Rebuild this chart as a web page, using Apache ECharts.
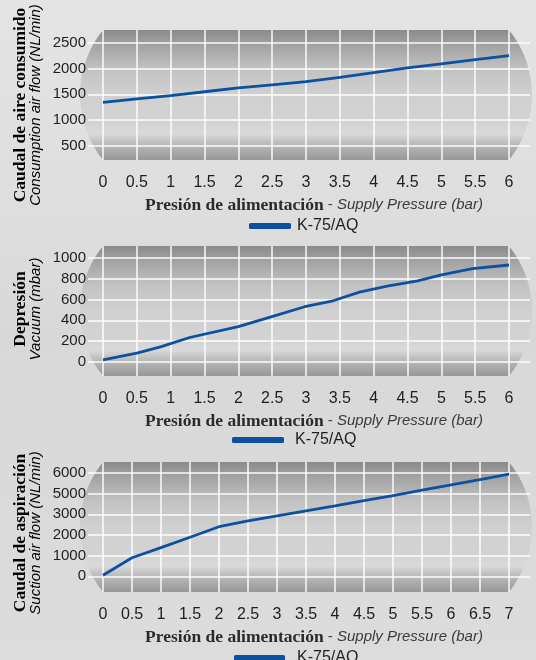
<!DOCTYPE html>
<html>
<head>
<meta charset="utf-8">
<script src="https://cdn.jsdelivr.net/npm/echarts@6/dist/echarts.min.js"></script>
<style>
  html, body { margin: 0; padding: 0; background: #dcdcdc; }
  #chart { width: 536px; height: 660px; }
</style>
</head>
<body>
<div id="chart"></div>
<script>
// ---- data -------------------------------------------------------------
const seriesName = 'K-75/AQ';

// Air consumption (NL/min) vs supply pressure (bar)
const pressureA = [0, 0.5, 1, 1.5, 2, 2.5, 3, 3.5, 4, 4.5, 5, 5.5, 6];
const airConsumption = [1345, 1410, 1475, 1550, 1625, 1685, 1745, 1830, 1920, 2010, 2090, 2170, 2250];

// Vacuum (mbar) vs supply pressure (bar)
const pressureB = [0, 0.5, 0.85, 1.28, 2, 2.57, 2.98, 3.4, 3.79, 4.2, 4.65, 5, 5.46, 6];
const vacuum = [20, 85, 145, 235, 340, 450, 530, 587, 670, 727, 778, 835, 895, 930];

// Suction air flow vs supply pressure (bar), in grid steps of 1000
const pressureC = [0, 0.5, 1, 1.5, 2, 2.5, 3, 3.5, 4, 4.5, 5, 5.5, 6, 6.5, 7];
const suctionFlow = [50, 900, 1390, 1890, 2400, 2680, 2920, 3170, 3410, 3660, 3910, 4170, 4420, 4680, 4940];
// printed labels of the suction scale (one per grid line; there is no "4000")
const suctionTickLabels = ['0', '1000', '2000', '3000', '5000', '6000'];

// ---- layout & style ---------------------------------------------------
const W = 536;
const PLOT_L = 103, PLOT_R = 509;       // inner plot (vertical grid lines)
const WIDE_L = 88, WIDE_R = 530;        // horizontal grid lines run wider
const PLOT_H = 130;
const BULGE = 23;                        // rounded ends of the gray panel
const BLUE = '#0c51a0';
const SANS = '"Liberation Sans", Arial, Helvetica, sans-serif';
const SERIF = '"Liberation Serif", "Times New Roman", serif';

const panels = [
  { top: 30,  yMin: 229,  yMax: 2745, splitNumber: 5, xMax: 6,
    title: ['Caudal de aire consumido', 'Consumption air flow (NL/min)'], titleX: 28, titleY: 105,
    legendLeft: 249, legendTop: 218, iconW: 42, textPad: 1 },
  { top: 246, yMin: -134, yMax: 1112, splitNumber: 6, xMax: 6,
    title: ['Depresión', 'Vacuum (mbar)'], titleX: 28, titleY: 309,
    legendLeft: 232, legendTop: 432, iconW: 52, textPad: 6 },
  { top: 462, yMin: -760, yMax: 5532, splitNumber: 6, xMax: 7,
    title: ['Caudal de aspiración', 'Suction air flow (NL/min)'], titleX: 28, titleY: 533,
    legendLeft: 234, legendTop: 650, iconW: 51, textPad: 7 }
];

const seriesData = [
  pressureA.map((p, i) => [p, airConsumption[i]]),
  pressureB.map((p, i) => [p, vacuum[i]]),
  pressureC.map((p, i) => [p, suctionFlow[i]])
];

const yFormatters = [
  v => (v % 500 === 0 ? String(v) : ''),
  v => (v % 200 === 0 ? String(v) : ''),
  v => {
    const k = v / 1000;
    return (Number.isInteger(k) && k >= 0 && k < suctionTickLabels.length) ? suctionTickLabels[k] : '';
  }
];

const panelGradient = {
  type: 'linear', x: 0, y: 0, x2: 0, y2: 1,
  colorStops: [
    { offset: 0, color: '#8b8b8b' },
    { offset: 0.12, color: '#a3a3a3' },
    { offset: 0.3, color: '#c2c2c2' },
    { offset: 0.5, color: '#d0d0d0' },
    { offset: 0.72, color: '#d3d3d3' },
    { offset: 0.8, color: '#d9d9d9' },
    { offset: 0.87, color: '#bdbdbd' },
    { offset: 1, color: '#979797' }
  ]
};

// gray panel: a rectangle with circular bulges on both sides
function panelShape(top) {
  const h = PLOT_H / 2, s = BULGE;
  const R = (h * h + s * s) / (2 * s);
  const a = Math.asin(h / R);
  const cy = top + h;
  const pts = [];
  const n = 24;
  const cxR = PLOT_R + s - R;
  for (let i = 0; i <= n; i++) {
    const t = -a + (2 * a * i) / n;
    pts.push([cxR + R * Math.cos(t), cy + R * Math.sin(t)]);
  }
  const cxL = PLOT_L - s + R;
  for (let i = 0; i <= n; i++) {
    const t = a - (2 * a * i) / n;
    pts.push([cxL - R * Math.cos(t), cy + R * Math.sin(t)]);
  }
  return pts;
}

const grids = [], xAxes = [], yAxes = [], series = [], legends = [];
const graphics = [
  {
    type: 'rect', z: -20, silent: true,
    shape: { x: 0, y: 0, width: W, height: 660 },
    style: {
      fill: {
        type: 'linear', x: 0, y: 0, x2: 0, y2: 1,
        colorStops: [
          { offset: 0, color: '#e4e4e4' },
          { offset: 0.35, color: '#dddddd' },
          { offset: 0.5, color: '#d8d8d8' },
          { offset: 1, color: '#dcdcdc' }
        ]
      }
    }
  }
];

panels.forEach((p, i) => {
  // inner grid: series, x axis, vertical grid lines
  grids.push({ left: PLOT_L, top: p.top, width: PLOT_R - PLOT_L, height: PLOT_H, containLabel: false });
  // wide grid: y labels and horizontal grid lines
  grids.push({ left: WIDE_L, top: p.top, width: WIDE_R - WIDE_L, height: PLOT_H, containLabel: false });

  xAxes.push({
    type: 'value', gridIndex: 2 * i, min: 0, max: p.xMax, interval: 0.5,
    axisLine: { show: false }, axisTick: { show: false },
    axisLabel: { margin: 15, fontFamily: SANS, fontSize: 16, color: '#1e1e1e' },
    splitLine: { show: true, lineStyle: { color: 'rgba(255,255,255,0.95)', width: 1.5 } },
    name: '{a|Presión de alimentación}{b| - }{c|Supply Pressure (bar)}',
    nameLocation: 'middle', nameGap: 36,
    nameTextStyle: {
      padding: [0, 0, 0, 16],
      rich: {
        a: { fontFamily: SERIF, fontWeight: 'bold', fontSize: 17.5, color: '#2a2a2a' },
        b: { fontFamily: SANS, fontSize: 15, color: '#444444' },
        c: { fontFamily: SANS, fontStyle: 'italic', fontSize: 15, color: '#3a3a3a' }
      }
    }
  });
  xAxes.push({ type: 'value', gridIndex: 2 * i + 1, min: 0, max: 1, show: false });

  yAxes.push({ type: 'value', gridIndex: 2 * i, min: p.yMin, max: p.yMax, splitNumber: p.splitNumber, show: false });
  yAxes.push({
    type: 'value', gridIndex: 2 * i + 1, min: p.yMin, max: p.yMax, splitNumber: p.splitNumber,
    axisLine: { show: false }, axisTick: { show: false },
    axisLabel: { margin: 2, fontFamily: SANS, fontSize: 15, color: '#1e1e1e', formatter: yFormatters[i] },
    splitLine: { show: true, showMinLine: false, showMaxLine: false,
      lineStyle: { color: 'rgba(255,255,255,0.95)', width: 1.5 } }
  });

  series.push({
    type: 'line', name: seriesName, xAxisIndex: 2 * i, yAxisIndex: 2 * i,
    data: seriesData[i], symbol: 'none', smooth: false,
    lineStyle: { color: BLUE, width: 2.8 }, itemStyle: { color: BLUE }, z: 5
  });

  legends.push({
    data: [seriesName], left: p.legendLeft, top: p.legendTop, padding: 0,
    icon: 'roundRect', itemWidth: p.iconW, itemHeight: 6, selectedMode: false,
    textStyle: { fontFamily: SANS, fontSize: 16, color: '#1e1e1e', padding: [0, 0, 0, p.textPad] }
  });

  graphics.push({
    type: 'polygon', z: -10, silent: true,
    shape: { points: panelShape(p.top) },
    style: { fill: panelGradient }
  });

  graphics.push({
    type: 'text', x: p.titleX, y: p.titleY, rotation: Math.PI / 2, z: 10, silent: true,
    style: {
      text: '{a|' + p.title[0] + '}\n{b|' + p.title[1] + '}',
      align: 'center', verticalAlign: 'middle',
      rich: {
        a: { fontFamily: SERIF, fontWeight: 'bold', fontSize: 17.5, color: '#2a2a2a', lineHeight: 16, align: 'center' },
        b: { fontFamily: SANS, fontStyle: 'italic', fontSize: 15, color: '#3c3c3c', lineHeight: 16, align: 'center' }
      }
    }
  });
});

const chart = echarts.init(document.getElementById('chart'), null, { renderer: 'canvas' });
chart.setOption({
  animation: false,
  backgroundColor: '#dcdcdc',
  grid: grids,
  xAxis: xAxes,
  yAxis: yAxes,
  legend: legends,
  graphic: { elements: graphics },
  series: series
});
</script>
</body>
</html>
